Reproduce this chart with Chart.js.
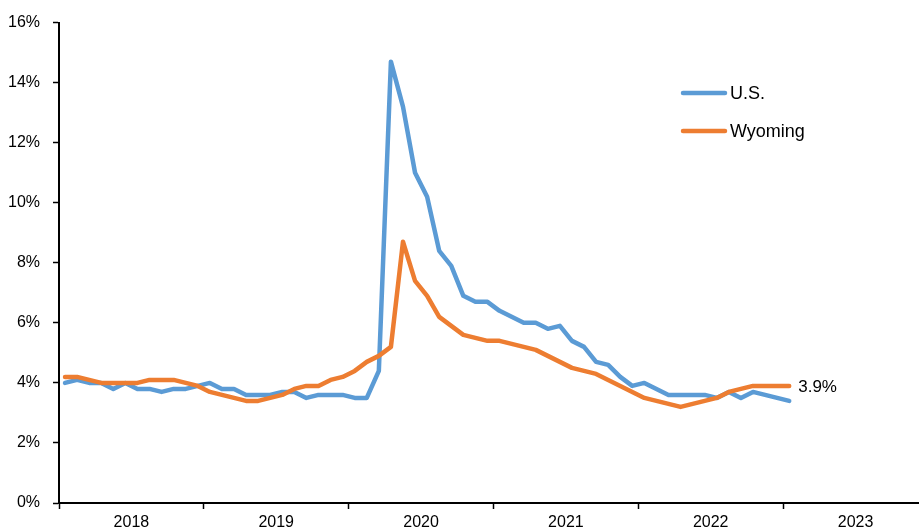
<!DOCTYPE html>
<html>
<head>
<meta charset="utf-8">
<script src="https://cdn.jsdelivr.net/npm/chart.js@4.4.0/dist/chart.umd.min.js"></script>
<style>
  html, body { margin: 0; padding: 0; background: #fff; overflow: hidden; }
  #wrap { width: 928px; height: 533px; }
</style>
</head>
<body>
<div id="wrap"><canvas id="chart"></canvas></div>
<script>
// years on the axis (the last one has no full data)
var years = ['2018', '2019', '2020', '2021', '2022', '2023'];
var monthNames = ['Jan','Feb','Mar','Apr','May','Jun','Jul','Aug','Sep','Oct','Nov','Dec'];

// monthly unemployment rate, %, Jan 2018 .. Jan 2023
var usRate = [
	4.0, 4.1, 4.0, 4.0, 3.8, 4.0, 3.8, 3.8, 3.7, 3.8, 3.8, 3.9,
	4.0, 3.8, 3.8, 3.6, 3.6, 3.6, 3.7, 3.7, 3.5, 3.6, 3.6, 3.6,
	3.5, 3.5, 4.4, 14.7, 13.2, 11.0, 10.2, 8.4, 7.9, 6.9, 6.7, 6.7,
	6.4, 6.2, 6.0, 6.0, 5.8, 5.9, 5.4, 5.2, 4.7, 4.6, 4.2, 3.9,
	4.0, 3.8, 3.6, 3.6, 3.6, 3.6, 3.5, 3.7, 3.5, 3.7, 3.6, 3.5,
	3.4
];
var wyRate = [
	4.2, 4.2, 4.1, 4.0, 4.0, 4.0, 4.0, 4.1, 4.1, 4.1, 4.0, 3.9,
	3.7, 3.6, 3.5, 3.4, 3.4, 3.5, 3.6, 3.8, 3.9, 3.9, 4.1, 4.2,
	4.4, 4.7, 4.9, 5.2, 8.7, 7.4, 6.9, 6.2, 5.9, 5.6, 5.5, 5.4,
	5.4, 5.3, 5.2, 5.1, 4.9, 4.7, 4.5, 4.4, 4.3, 4.1, 3.9, 3.7,
	3.5, 3.4, 3.3, 3.2, 3.3, 3.4, 3.5, 3.7, 3.8, 3.9, 3.9, 3.9,
	3.9
];
var yTicks = [0, 2, 4, 6, 8, 10, 12, 14, 16];

var labels = [];
years.forEach(function(y){
	monthNames.forEach(function(m){ labels.push(m + ' ' + y); });
});

var FAMILY = "'Liberation Sans', Arial, sans-serif";
var FONT = { family: FAMILY, size: 16 };
var BLUE = '#5B9BD5';
var ORANGE = '#ED7D31';

// legend placed inside the plot + end label for Wyoming
var extras = {
	id: 'extras',
	afterDatasetsDraw: function(chart){
		var ctx = chart.ctx;
		ctx.save();
		ctx.textBaseline = 'middle';
		ctx.fillStyle = '#000';
		ctx.lineCap = 'round';
		ctx.lineWidth = 4.5;
		ctx.font = '18px ' + FAMILY;
		var items = [[chart.data.datasets[0], 93], [chart.data.datasets[1], 131]];
		items.forEach(function(it){
			ctx.strokeStyle = it[0].borderColor;
			ctx.beginPath();
			ctx.moveTo(683, it[1]);
			ctx.lineTo(725, it[1]);
			ctx.stroke();
			ctx.fillText(it[0].label, 730, it[1] + 1);
		});
		ctx.font = '17px ' + FAMILY;
		var meta = chart.getDatasetMeta(1);
		var last = meta.data[wyRate.length - 1];
		ctx.fillText(wyRate[wyRate.length - 1].toFixed(1) + '%', last.x + 9, last.y + 1);
		ctx.restore();
	}
};

new Chart(document.getElementById('chart'), {
	type: 'line',
	data: {
		labels: labels,
		datasets: [{
			label: 'U.S.',
			data: usRate,
			borderColor: BLUE,
			backgroundColor: BLUE,
			borderWidth: 4.5,
			pointRadius: 0,
			tension: 0,
			borderJoinStyle: 'round',
			borderCapStyle: 'round',
			order: 1
		}, {
			label: 'Wyoming',
			data: wyRate,
			borderColor: ORANGE,
			backgroundColor: ORANGE,
			borderWidth: 4.5,
			pointRadius: 0,
			tension: 0,
			borderJoinStyle: 'round',
			borderCapStyle: 'round',
			order: 0
		}]
	},
	options: {
		responsive: true,
		maintainAspectRatio: false,
		animation: false,
		layout: { padding: { top: 17, left: 0, right: 0, bottom: 0 } },
		plugins: {
			legend: { display: false },
			tooltip: { enabled: false }
		},
		scales: {
			x: {
				type: 'category',
				offset: true,
				border: { display: true, color: '#000', width: 2 },
				grid: {
					offset: true,
					drawOnChartArea: false,
					drawTicks: true,
					tickLength: 6,
					tickWidth: 1.5,
					tickColor: function(c){ return (c.index % 12 === 0) ? '#000' : 'rgba(0,0,0,0)'; }
				},
				ticks: {
					autoSkip: false,
					maxRotation: 0,
					minRotation: 0,
					padding: 4,
					color: '#000',
					font: FONT,
					labelOffset: 6,
					callback: function(v, i){ return (i % 12 === 5) ? years[Math.floor(i / 12)] : ''; }
				},
				afterFit: function(s){ s.height = 30; }
			},
			y: {
				min: 0,
				max: 16,
				border: { display: true, color: '#000', width: 2 },
				grid: {
					drawOnChartArea: false,
					drawTicks: true,
					tickLength: 6,
					tickWidth: 1.5,
					tickColor: '#000'
				},
				afterBuildTicks: function(s){ s.ticks = yTicks.map(function(v){ return { value: v }; }); },
				ticks: {
					padding: 13,
					color: '#000',
					font: FONT,
					callback: function(v){ return v + '%'; }
				},
				afterFit: function(s){ s.width = 59; }
			}
		}
	},
	plugins: [extras]
});
</script>
</body>
</html>
